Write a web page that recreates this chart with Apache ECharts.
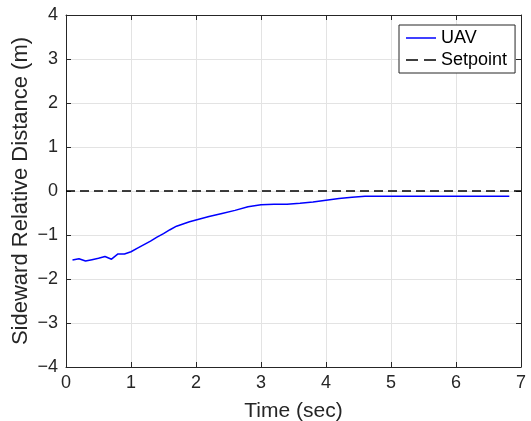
<!DOCTYPE html>
<html><head><meta charset="utf-8">
<script src="https://cdn.jsdelivr.net/npm/echarts@6/dist/echarts.min.js"></script>
<style>html,body{margin:0;padding:0;background:#fff}#c{width:531px;height:421px}</style>
</head><body><div id="c"></div>
<script>
const timeSec = [0.1,0.2,0.3,0.4,0.5,0.6,0.7,0.8,0.9,1.0,1.1,1.2,1.3,1.4,1.5,1.6,1.7,1.8,1.9,2.0,2.2,2.4,2.6,2.8,3.0,3.2,3.4,3.6,3.8,4.0,4.2,4.4,4.6,4.8,5.0,5.2,5.4,5.6,5.8,6.0,6.2,6.4,6.6,6.82];
const uavDist = [-1.57,-1.54,-1.59,-1.56,-1.53,-1.49,-1.55,-1.43,-1.43,-1.38,-1.30,-1.22,-1.14,-1.05,-0.97,-0.88,-0.80,-0.75,-0.70,-0.66,-0.58,-0.51,-0.44,-0.36,-0.31,-0.30,-0.30,-0.28,-0.25,-0.21,-0.17,-0.14,-0.12,-0.12,-0.12,-0.12,-0.12,-0.12,-0.12,-0.12,-0.12,-0.12,-0.12,-0.12];
const setpointX = [0, 7];
const setpointY = [0, 0];
const xTicks = [0,1,2,3,4,5,6,7];
const yTicks = [-4,-3,-2,-1,0,1,2,3,4];

const chart = echarts.init(document.getElementById('c'));
const font = 'Liberation Sans';
const axisCommon = {
  axisLine: {onZero: false, lineStyle: {color: '#262626', width: 1}},
  axisTick: {inside: true, length: 5, lineStyle: {color: '#262626'}},
};
chart.setOption({
  animation: false,
  grid: {left: 66, right: 10, top: 15, bottom: 54, containLabel: false, outerBoundsMode: 'none'},
  legend: {
    left: 399, top: 25, orient: 'vertical', itemGap: 4,
    itemWidth: 30, itemHeight: 16,
    backgroundColor: '#fff', borderColor: '#262626', borderWidth: 1,
    padding: [4, 8, 4, 7],
    textStyle: {fontFamily: font, fontSize: 18, color: '#000', padding: [0, 0, 0, 0]},
    data: [
      {name: 'UAV', icon: 'path://M0,0h30v1.5h-30z', itemStyle: {color: '#0000ff'}},
      {name: 'Setpoint', icon: 'path://M0,0h12v1.5h-12zM18,0h12v1.5h-12z', itemStyle: {color: '#000'}}
    ]
  },
  xAxis: [{
    type: 'value', min: 0, max: 7, interval: 1,
    name: 'Time (sec)', nameLocation: 'middle', nameGap: 34,
    nameTextStyle: {fontFamily: font, fontSize: 21, color: '#262626'},
    axisLabel: {fontFamily: font, fontSize: 18, color: '#262626', margin: 7},
    splitLine: {show: true, lineStyle: {color: '#e3e3e3'}},
    ...axisCommon
  }, {
    type: 'value', min: 0, max: 7, interval: 1, position: 'top',
    axisLabel: {show: false}, splitLine: {show: false}, ...axisCommon
  }],
  yAxis: [{
    type: 'value', min: -4, max: 4, interval: 1,
    name: 'Sideward Relative Distance (m)', nameLocation: 'middle', nameGap: 34,
    nameMoveOverlap: false,
    nameTextStyle: {fontFamily: font, fontSize: 22, color: '#262626'},
    axisLabel: {fontFamily: font, fontSize: 18, color: '#262626', margin: 8,
      formatter: v => v < 0 ? '\u2212' + (-v) : String(v)},
    splitLine: {show: true, lineStyle: {color: '#e3e3e3'}},
    ...axisCommon
  }, {
    type: 'value', min: -4, max: 4, interval: 1, position: 'right',
    axisLabel: {show: false}, splitLine: {show: false}, ...axisCommon
  }],
  series: [{
    name: 'UAV', type: 'line', showSymbol: false, symbol: 'none',
    color: '#0000ff', lineStyle: {color: '#0000ff', width: 1.5},
    data: timeSec.map((t, i) => [t, uavDist[i]])
  }, {
    name: 'Setpoint', type: 'line', showSymbol: false, symbol: 'none',
    color: '#000', lineStyle: {color: '#000', width: 1.5, type: [9, 5]},
    data: setpointX.map((t, i) => [t, setpointY[i]])
  }]
});
</script></body></html>
